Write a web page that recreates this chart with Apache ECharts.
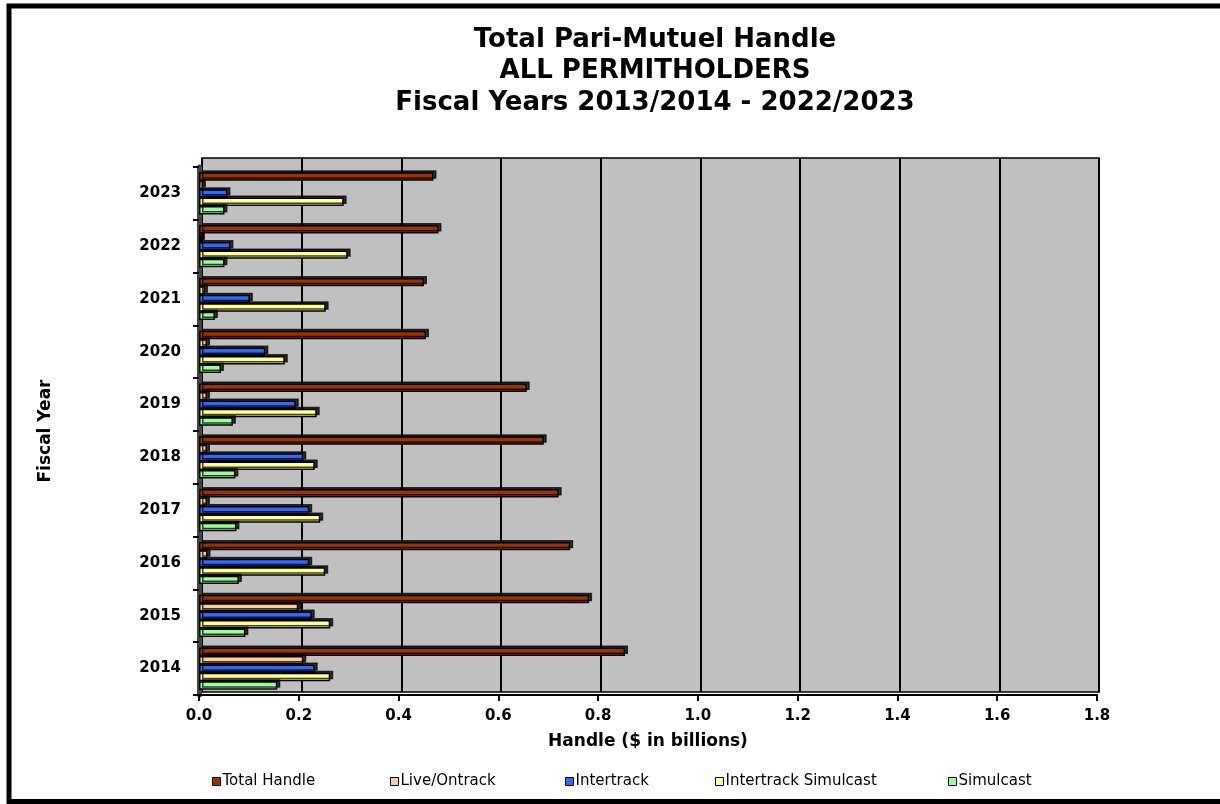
<!DOCTYPE html>
<html>
<head>
<meta charset="utf-8">
<script src="https://cdn.jsdelivr.net/npm/echarts@6/dist/echarts.min.js"></script>
<style>
  html, body { margin: 0; padding: 0; background: #fff; }
  #chart { width: 1220px; height: 804px; }
</style>
</head>
<body>
<div id="chart"></div>
<script>
"use strict";

/*-----data (top to bottom as shown)-----*/
var years = ['2023', '2022', '2021', '2020', '2019', '2018', '2017', '2016', '2015', '2014'];
var totalHandle = [0.470, 0.480, 0.451, 0.455, 0.657, 0.691, 0.721, 0.744, 0.782, 0.854];
var liveOntrack = [0.008, 0.006, 0.012, 0.016, 0.016, 0.016, 0.016, 0.017, 0.199, 0.209];
var intertrack = [0.057, 0.063, 0.102, 0.133, 0.194, 0.209, 0.221, 0.221, 0.226, 0.232];
var intertrackSimulcast = [0.290, 0.298, 0.254, 0.172, 0.236, 0.232, 0.243, 0.253, 0.263, 0.263];
var simulcast = [0.051, 0.051, 0.032, 0.044, 0.068, 0.073, 0.075, 0.080, 0.093, 0.157];
var xTicks = [0, 1.8, 0.2]; // min, max, interval

var seriesNames = ['Total Handle', 'Live/Ontrack', 'Intertrack', 'Intertrack Simulcast', 'Simulcast'];
var seriesData = [totalHandle, liveOntrack, intertrack, intertrackSimulcast, simulcast];
var seriesColors = ['#993300', '#FFCC99', '#3366FF', '#FFFF99', '#99FF99'];
var legendLeft = [212, 390, 565, 715, 948];

var font = '"DejaVu Sans", Arial, sans-serif';

var chart = echarts.init(document.getElementById('chart'));

var series = seriesNames.map(function (name, i) {
	return {
		name: name,
		type: 'bar',
		xAxisIndex: 1,
		yAxisIndex: 1,
		data: seriesData[i],
		barGap: '0%',
		barCategoryGap: '20%',
		itemStyle: {
			color: seriesColors[i],
			borderColor: '#000',
			borderWidth: 1.5,
			shadowColor: 'rgba(0,0,0,0.75)',
			shadowOffsetX: 3,
			shadowOffsetY: -2,
			shadowBlur: 0
		},
		emphasis: { disabled: true }
	};
});

// one legend per item so each sits where the original put it
var legends = seriesNames.map(function (name, i) {
	return {
		data: [name],
		left: legendLeft[i],
		top: 774,
		itemWidth: 8,
		itemHeight: 8,
		icon: 'rect',
		padding: 0,
		itemStyle: { borderColor: '#000', borderWidth: 1 },
		textStyle: { fontFamily: font, fontSize: 15, color: '#000', padding: [0, 0, 0, -3] }
	};
});

var option = {
	animation: false,
	backgroundColor: '#fff',
	color: seriesColors,
	title: {
		text: 'Total Pari-Mutuel Handle\nALL PERMITHOLDERS\nFiscal Years 2013/2014 - 2022/2023',
		left: 650,
		top: 19,
		textAlign: 'center',
		textStyle: {
			fontFamily: font,
			fontWeight: 'bold',
			fontSize: 26,
			lineHeight: 31.5,
			color: '#000'
		}
	},
	legend: legends,
	grid: [{
		// back wall
		left: 202,
		right: 121,
		top: 158,
		bottom: 112,
		show: true,
		backgroundColor: '#C0C0C0',
		borderColor: '#000',
		borderWidth: 1.5
	}, {
		// front plane with the bars
		left: 199,
		right: 123,
		top: 167,
		bottom: 109
	}],
	xAxis: [{
		gridIndex: 0,
		type: 'value',
		min: xTicks[0],
		max: xTicks[1],
		interval: xTicks[2],
		axisLine: { show: false },
		axisTick: { show: false },
		axisLabel: { show: false },
		splitLine: { show: true, lineStyle: { color: '#000', width: 2 } }
	}, {
		gridIndex: 1,
		type: 'value',
		min: xTicks[0],
		max: xTicks[1],
		interval: xTicks[2],
		name: 'Handle ($ in billions)',
		nameLocation: 'middle',
		nameGap: 38,
		nameTextStyle: { fontFamily: font, fontWeight: 'bold', fontSize: 17, color: '#000' },
		axisLine: { show: true, lineStyle: { color: '#000', width: 2 } },
		axisTick: { show: true, length: 6, lineStyle: { color: '#000', width: 2 } },
		axisLabel: {
			margin: 14,
			fontFamily: font,
			fontWeight: 'bold',
			fontSize: 15,
			color: '#000',
			formatter: function (v) { return v.toFixed(1); }
		},
		splitLine: { show: false }
	}],
	yAxis: [{
		gridIndex: 0,
		type: 'category',
		data: years,
		inverse: true,
		axisLine: { show: false },
		axisTick: { show: false },
		axisLabel: { show: false },
		splitLine: { show: false }
	}, {
		gridIndex: 1,
		type: 'category',
		data: years,
		inverse: true,
		name: 'Fiscal Year',
		nameLocation: 'middle',
		nameGap: 145,
		nameTextStyle: { fontFamily: font, fontWeight: 'bold', fontSize: 17, color: '#000' },
		axisLine: { show: true, lineStyle: { color: '#444', width: 5 } },
		axisTick: { show: true, length: 6, lineStyle: { color: '#000', width: 2 } },
		axisLabel: {
			margin: 18,
			fontFamily: font,
			fontWeight: 'bold',
			fontSize: 15,
			color: '#000'
		}
	}],
	graphic: [{
		type: 'rect',
		silent: true,
		shape: { x: 9, y: 6, width: 1215, height: 795.5 },
		style: { fill: 'none', stroke: '#000', lineWidth: 5 }
	}],
	series: series
};

chart.setOption(option);
</script>
</body>
</html>
